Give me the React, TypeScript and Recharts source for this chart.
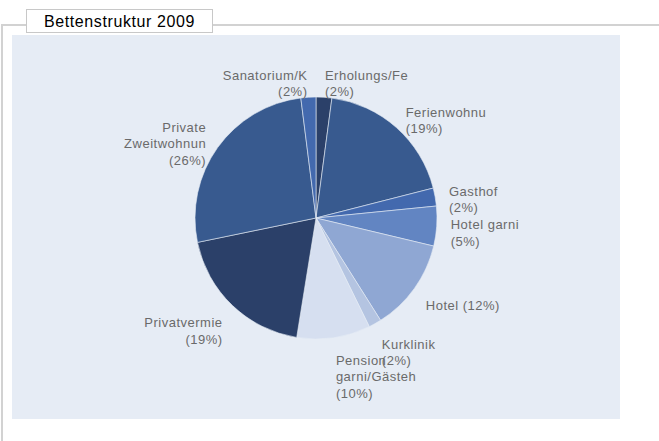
import { PieChart, Pie, Cell } from 'recharts';

// Bettenstruktur 2009 – share of beds by accommodation type
const categories = [
  'Erholungs/Fe',
  'Ferienwohnu',
  'Gasthof',
  'Hotel garni',
  'Hotel',
  'Kurklinik',
  'Pension\ngarni/Gästeh',
  'Privatvermie',
  'Private\nZweitwohnun',
  'Sanatorium/K',
];
const shares = [2.1, 18.9, 2.4, 5.3, 12.3, 1.7, 9.8, 19.2, 26.2, 2.0];
const colors = [
  '#2b4069', '#385a8f', '#4369ae', '#6285c2', '#8fa7d3',
  '#b4c4e1', '#d6dff0', '#2b4069', '#385a8f', '#4369ae',
];

const data = categories.map((name, i) => ({ name, value: shares[i] }));

const RAD = Math.PI / 180;
const LINE_H = 16.5;
const FONT = '"Liberation Sans", Arial, sans-serif';

function renderLabel(props: any) {
  const { cx, cy, midAngle, outerRadius, percent, index } = props;
  const pct = `(${Math.round(percent * 100)}%)`;
  const name: string = categories[index];
  const oneLine = `${name} ${pct}`;
  const lines = !name.includes('\n') && oneLine.length <= 11
    ? [oneLine]
    : [...name.split('\n'), pct];

  const r = outerRadius + 14;
  const cos = Math.cos(-midAngle * RAD);
  const sin = Math.sin(-midAngle * RAD);
  const x = cx + r * cos;
  // side labels sit a little lower than the straight radial point
  const y = cy + r * sin + 5 * Math.abs(cos);
  const h = lines.length * LINE_H;
  const yc = y + Math.max(0, sin) * h / 2;
  const anchor = cos >= 0 ? 'start' : 'end';

  return (
    <text
      key={`lbl-${index}`}
      x={x}
      y={yc}
      textAnchor={anchor}
      fill="#6a6a6a"
      fontSize={13}
      fontFamily={FONT}
      letterSpacing={0.5}
    >
      {lines.map((ln, i) => (
        <tspan key={i} x={x} y={yc - h / 2 + LINE_H * (i + 0.5) + 4.5}>{ln}</tspan>
      ))}
    </text>
  );
}

export default function App() {
  return (
    <div style={{ position: 'absolute', left: 0, top: 0, width: 659, height: 441, background: '#fff', overflow: 'hidden' }}>
      <div style={{ position: 'absolute', left: 1, top: 24, width: 670, height: 430, borderTop: '2px solid #d2d2d2', borderLeft: '2px solid #d2d2d2' }} />
      <div style={{ position: 'absolute', left: 12, top: 35, width: 608, height: 384, background: '#e6ecf5' }} />
      <div
        style={{
          position: 'absolute', left: 26, top: 9, width: 185, height: 22,
          border: '1px solid #c8c8c8', background: '#fff',
          fontFamily: FONT, fontSize: 16, letterSpacing: 0.6, color: '#000',
          textAlign: 'center', lineHeight: '24px',
        }}
      >
        Bettenstruktur 2009
      </div>
      <div style={{ position: 'absolute', left: 0, top: 0 }}>
        <PieChart width={659} height={441} margin={{ top: 0, right: 0, bottom: 0, left: 0 }}>
          <Pie
            data={data}
            dataKey="value"
            nameKey="name"
            cx={316}
            cy={218}
            outerRadius={121}
            startAngle={90}
            endAngle={-270}
            stroke="#e6ecf5"
            strokeWidth={0.6}
            label={renderLabel}
            labelLine={false}
            isAnimationActive={false}
          >
            {data.map((d, i) => (
              <Cell key={d.name} fill={colors[i]} />
            ))}
          </Pie>
        </PieChart>
      </div>
    </div>
  );
}
